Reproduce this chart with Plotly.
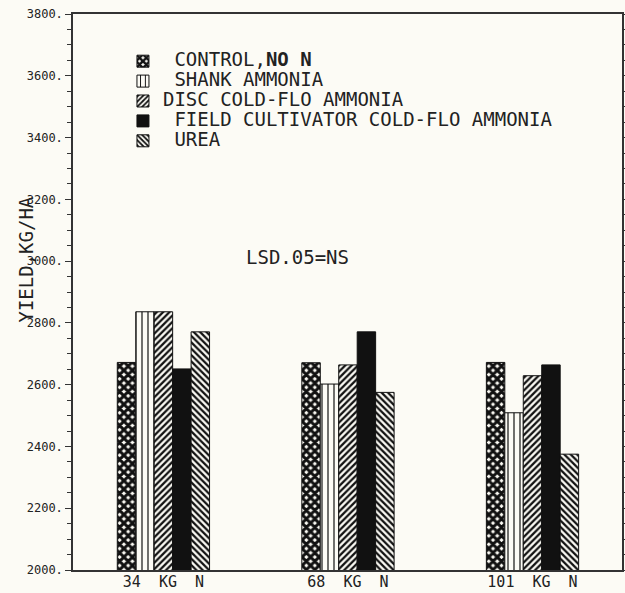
import plotly.graph_objects as go

groups = ["34\u00a0\u00a0KG\u00a0\u00a0N", "68\u00a0\u00a0KG\u00a0\u00a0N", "101\u00a0\u00a0KG\u00a0\u00a0N"]
group_pos = [0, 1, 2]

series_names = [
    "\u00a0CONTROL,<b>NO N</b>",
    "\u00a0SHANK AMMONIA",
    "DISC COLD-FLO AMMONIA",
    "\u00a0FIELD CULTIVATOR COLD-FLO AMMONIA",
    "\u00a0UREA",
]
control = [2672, 2671, 2672]
shank = [2836, 2602, 2509]
disc = [2836, 2664, 2629]
field = [2651, 2771, 2664]
urea = [2771, 2575, 2375]
series_values = [control, shank, disc, field, urea]

y_ticks = [2000, 2200, 2400, 2600, 2800, 3000, 3200, 3400, 3600, 3800]
y_ticktext = [f"{v}." for v in y_ticks]

BG = "#fcfbf5"
INK = "#111111"
MONO = "DejaVu Sans Mono"

patterns = [
    dict(shape="x", size=6, solidity=0.75, fgcolor=INK, bgcolor=BG),
    dict(shape="|", size=6, solidity=0.2, fgcolor=INK, bgcolor=BG),
    dict(shape="/", size=4.5, solidity=0.5, fgcolor=INK, bgcolor=BG),
    None,
    dict(shape="\\", size=4.5, solidity=0.5, fgcolor=INK, bgcolor=BG),
]
colors = [BG, BG, BG, INK, BG]

fig = go.Figure()
for name, vals, pat, col in zip(series_names, series_values, patterns, colors):
    marker = dict(color=col, line=dict(color=INK, width=1))
    if pat is not None:
        marker["pattern"] = pat
    fig.add_trace(go.Bar(
        x=group_pos, y=vals,
        name=f"<span style='font-size:19px'>{name}</span>",
        marker=marker,
    ))

fig.add_annotation(
    text="LSD.05=NS", x=0.409, y=0.563, xref="paper", yref="paper",
    xanchor="center", yanchor="middle",
    showarrow=False, font=dict(family=MONO, size=19, color="#222"),
)
fig.add_annotation(
    text="YIELD,KG/HA", x=-0.085, y=0.559, xref="paper", yref="paper",
    xanchor="center", yanchor="middle",
    showarrow=False, textangle=-90, font=dict(family=MONO, size=19, color="#222"),
)

fig.update_layout(
    template="none",
    width=625, height=593,
    margin=dict(l=73, r=3, t=14, b=23, autoexpand=False),
    paper_bgcolor=BG, plot_bgcolor=BG,
    barmode="group", bargap=0.5, bargroupgap=0,
    showlegend=True,
    legend=dict(
        x=0.091, y=0.942, xanchor="left", yanchor="top",
        bgcolor="rgba(0,0,0,0)", borderwidth=0,
        font=dict(family=MONO, size=13, color="#222"),
        traceorder="normal",
    ),
    xaxis=dict(
        range=[-0.49, 2.485], tickmode="array", tickvals=group_pos, ticktext=groups,
        showgrid=False, zeroline=False, showline=True, linecolor="#333", linewidth=1.5,
        mirror=True, ticks="", automargin=False, ticklabelstandoff=-3,
        tickfont=dict(family=MONO, size=15, color="#222"),
    ),
    yaxis=dict(
        range=[2000, 3800], tickmode="array", tickvals=y_ticks, ticktext=y_ticktext,
        showgrid=False, zeroline=False, showline=True, linecolor="#333", linewidth=1.5,
        mirror="ticks", ticks="outside", ticklen=6, tickwidth=1.2, tickcolor="#333",
        minor=dict(dtick=50, ticks="outside", ticklen=4, tickwidth=1, tickcolor="#333"),
        automargin=False,
        tickfont=dict(family=MONO, size=12, color="#222"),
    ),
)

fig.write_html(
    "out.html",
    config={"displayModeBar": False},
    post_script="document.body.style.margin='0';document.body.style.overflow='hidden';"
                "document.body.style.background='" + BG + "';",
)
